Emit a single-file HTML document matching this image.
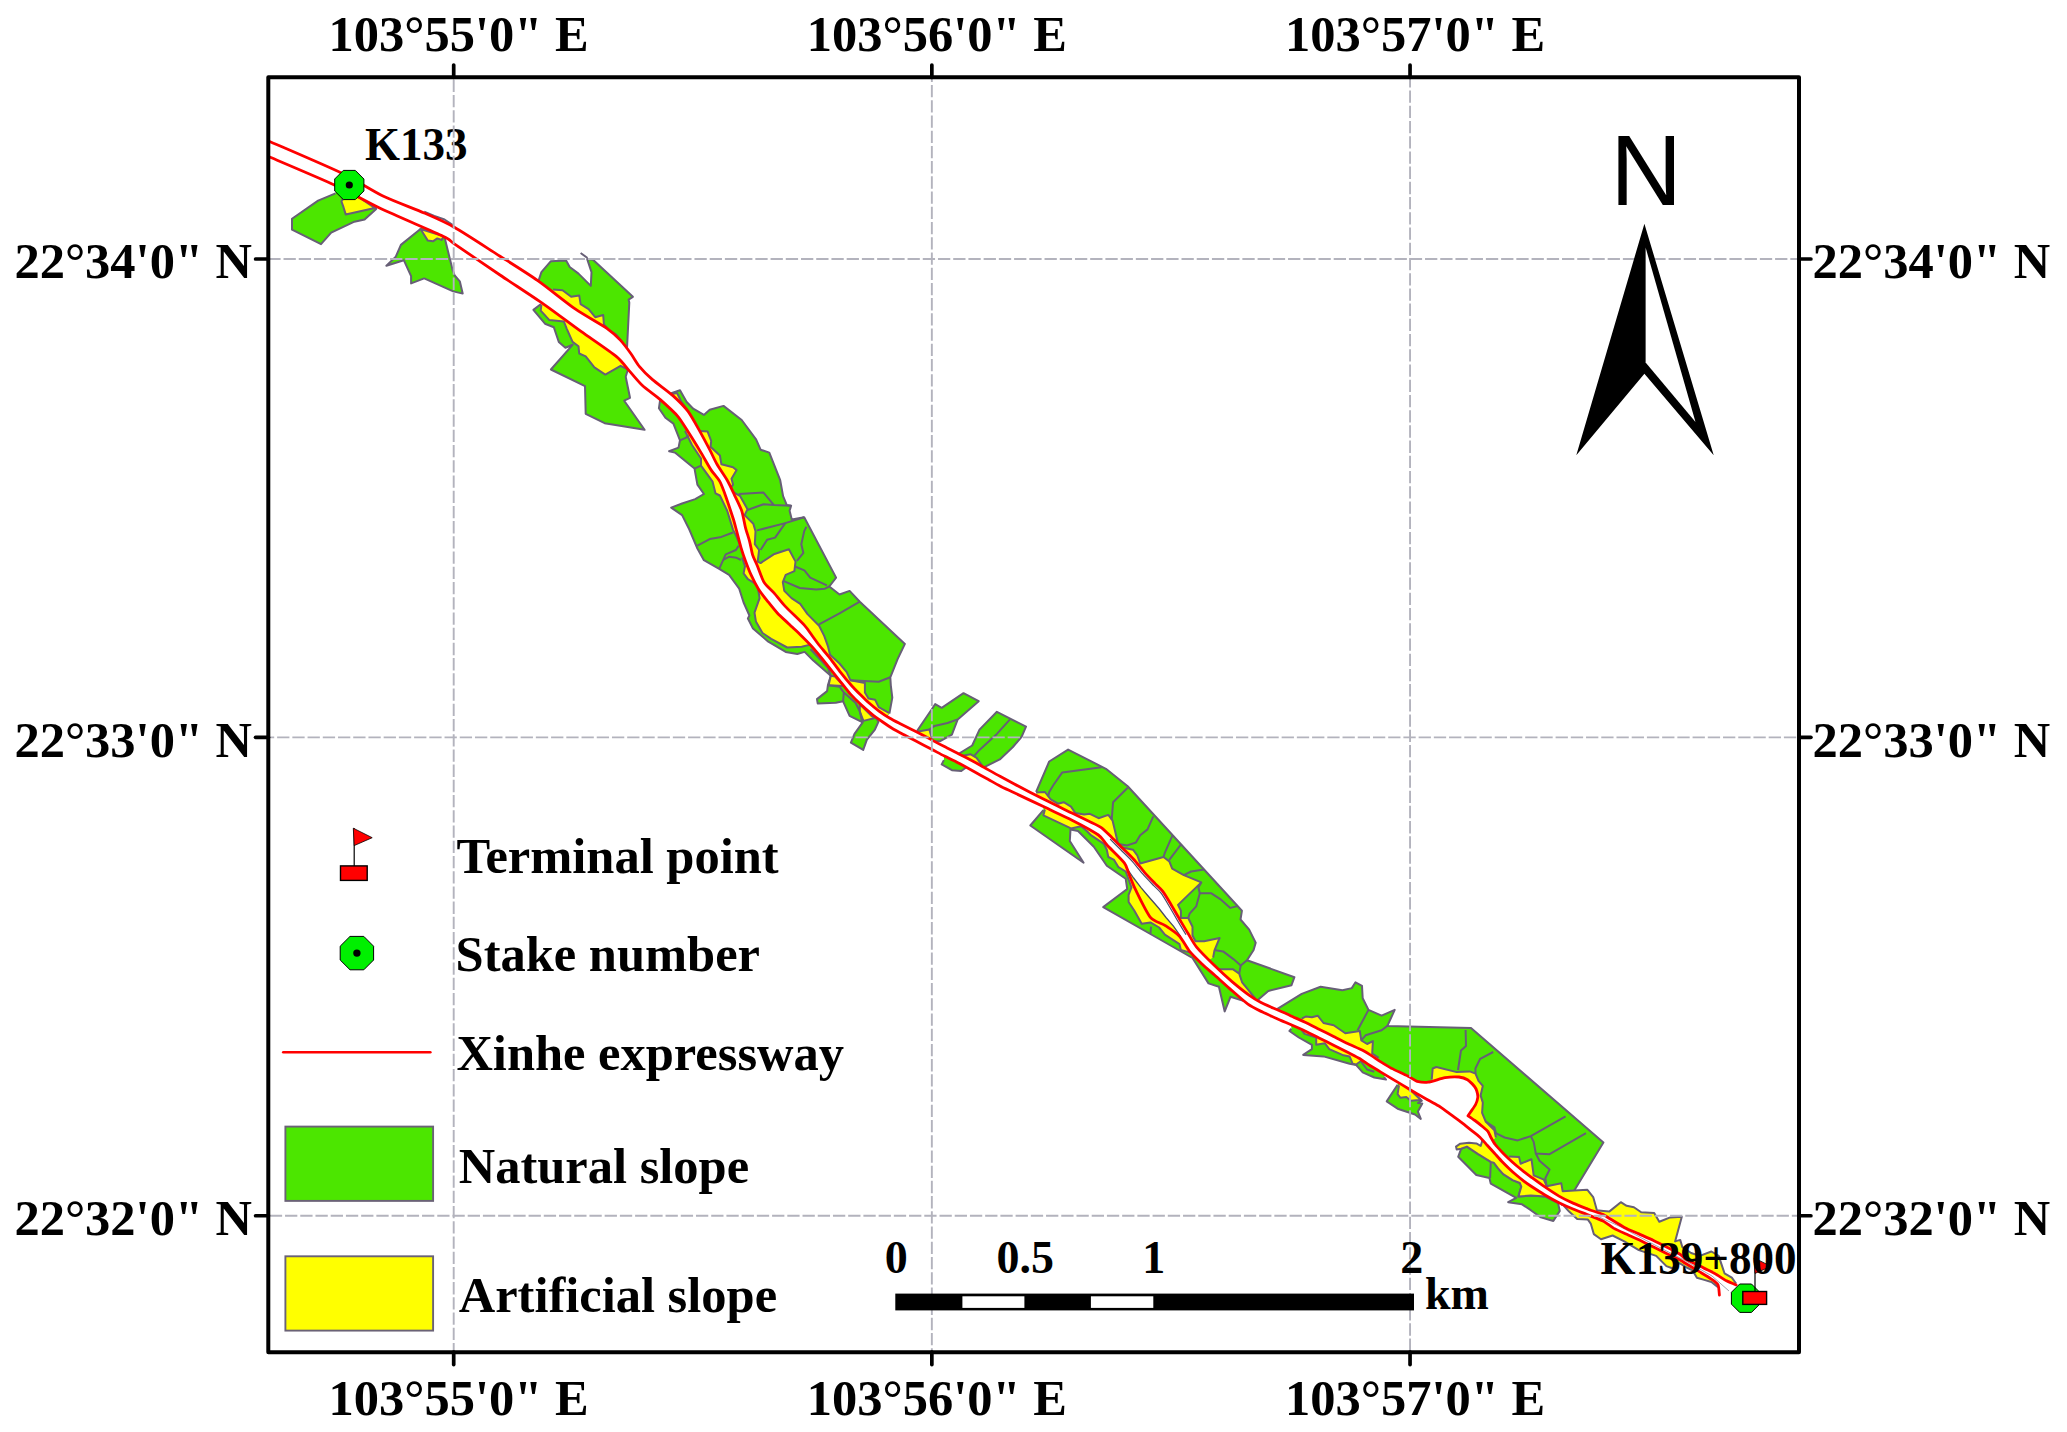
<!DOCTYPE html>
<html><head><meta charset="utf-8"><title>Xinhe expressway slope map</title>
<style>html,body{margin:0;padding:0;background:#fff}svg{display:block}text{font-family:"Liberation Serif",serif;font-weight:bold;fill:#000}.ax{font-size:51.6px}.lg{font-size:50.5px}.st{font-size:46.6px}.sb{font-size:46px}.n{font-family:"Liberation Sans",sans-serif;font-weight:normal;font-size:99.5px}</style></head><body>
<svg width="2067" height="1432" viewBox="0 0 2067 1432">
<rect width="2067" height="1432" fill="#fff"/>
<defs><clipPath id="fr"><rect x="268.3" y="77.3" width="1530.7" height="1274.9"/></clipPath></defs>
<g clip-path="url(#fr)">
<g stroke="#675f76" stroke-width="2.0" stroke-linejoin="round">
<polygon points="335.5,193.4 318.1,200.6 292.0,218.8 292.0,229.7 321.0,244.2 331.2,232.6 354.4,221.7 364.6,219.5 376.2,208.9 374.8,207.2 383.5,196.3 341.4,173.0" fill="#4ce600" stroke="none"/>
<polyline points="335.5,193.4 318.1,200.6 292.0,218.8 292.0,229.7 321.0,244.2 331.2,232.6 354.4,221.7 364.6,219.5 376.2,208.9 374.8,207.2" fill="none"/>
<polygon points="420.5,229.0 400.9,244.9 395.8,256.6 386.4,265.7 403.8,260.2 411.1,276.2 411.1,283.4 424.2,278.4 453.2,291.4 462.7,293.6 459.8,281.3 454.7,275.5 452.5,269.6 444.5,237.0 454.7,227.5 424.2,213.0" fill="#4ce600" stroke="none"/>
<polyline points="420.5,229.0 400.9,244.9 395.8,256.6 386.4,265.7 403.8,260.2 411.1,276.2 411.1,283.4 424.2,278.4 453.2,291.4 462.7,293.6 459.8,281.3 454.7,275.5 452.5,269.6 444.5,237.0" fill="none"/>
<polygon points="538.5,280.9 541.4,272.1 550.9,261.2 566.1,260.5 569.7,267.0 578.5,273.6 590.8,285.9 591.5,272.1 587.2,259.1 593.0,259.8 632.9,296.8 628.6,299.7 629.3,302.6 627.1,346.2 626.4,349.9 616.2,356.4 581.4,331.7 543.6,304.1" fill="#4ce600" stroke="none"/>
<polyline points="538.5,280.9 541.4,272.1 550.9,261.2 566.1,260.5 569.7,267.0 578.5,273.6 590.8,285.9 591.5,272.1 587.2,259.1 593.0,259.8 632.9,296.8 628.6,299.7 629.3,302.6 627.1,346.2 626.4,349.9" fill="none"/>
<polygon points="543.6,304.1 540.0,304.8 533.4,309.9 545.0,323.7 553.8,327.3 558.8,341.9 565.4,347.7 572.6,344.8 550.9,369.5 585.0,386.2 585.7,413.8 604.6,423.2 644.6,429.8 624.2,400.7 630.0,397.8 625.7,376.7 627.9,369.5 639.5,366.6 630.8,353.5 620.6,340.4 607.5,328.8 575.5,309.2 537.8,280.6" fill="#4ce600" stroke="none"/>
<polyline points="543.6,304.1 540.0,304.8 533.4,309.9 545.0,323.7 553.8,327.3 558.8,341.9 565.4,347.7 572.6,344.8 550.9,369.5 585.0,386.2 585.7,413.8 604.6,423.2 644.6,429.8 624.2,400.7 630.0,397.8 625.7,376.7 627.9,369.5" fill="none"/>
<polygon points="671.2,393.1 680.0,390.2 686.5,401.8 693.2,408.7 703.9,414.9 709.7,409.8 723.5,405.9 741.7,420.0 756.2,439.6 760.6,449.7 769.3,452.6 780.2,480.2 783.1,496.2 786.7,504.9 791.1,505.7 789.6,510.8 791.8,519.5 804.2,517.3 836.1,577.6 829.3,586.5 839.5,594.5 849.6,590.9 859.8,601.7 904.9,643.9 897.6,659.1 890.3,677.3 890.8,685.3 892.3,697.6 889.4,713.6 882.7,722.0 871.8,714.0 860.9,704.5 850.0,693.6 840.8,682.1 826.3,663.9 811.8,646.5 800.0,634.5 788.9,624.0 777.3,613.0 767.1,600.6 758.4,589.0 751.2,575.2 745.4,560.7 741.0,547.6 736.6,530.9 733.0,518.0 725.7,496.2 719.9,481.7 711.2,470.1 701.0,452.6 689.4,433.8 677.8,416.3 660.3,399.6" fill="#4ce600" stroke="none"/>
<polyline points="671.2,393.1 680.0,390.2 686.5,401.8 693.2,408.7 703.9,414.9 709.7,409.8 723.5,405.9 741.7,420.0 756.2,439.6 760.6,449.7 769.3,452.6 780.2,480.2 783.1,496.2 786.7,504.9 791.1,505.7 789.6,510.8 791.8,519.5 804.2,517.3 836.1,577.6 829.3,586.5 839.5,594.5 849.6,590.9 859.8,601.7 904.9,643.9 897.6,659.1 890.3,677.3 890.8,685.3 892.3,697.6 889.4,713.6" fill="none"/>
<polygon points="660.3,398.9 658.9,408.3 665.4,417.8 673.4,423.6 680.0,440.3 678.5,447.6 669.1,451.2 674.9,452.6 694.5,468.6 697.4,484.6 703.9,494.0 695.2,499.1 682.1,503.5 671.2,507.6 682.1,515.1 688.7,528.2 697.4,548.5 703.9,560.2 719.2,568.9 729.1,574.9 739.2,588.7 743.6,602.5 749.4,615.5 747.9,618.5 753.0,628.6 768.3,641.7 785.7,651.9 797.3,654.0 804.6,651.9 813.3,660.6 830.8,675.8 827.9,685.3 827.1,691.1 817.0,699.1 817.7,703.4 835.8,702.7 843.1,701.3 849.6,715.8 862.7,722.3 854.5,733.9 850.9,742.6 863.2,749.9 866.9,739.7 874.9,729.6 878.5,721.6 875.8,718.0 879.0,711.1 868.2,702.3 860.0,694.3 851.7,685.7 840.8,672.6 829.9,658.1 819.0,645.0 812.0,635.5 804.5,625.4 785.3,606.4 774.4,593.3 764.2,582.5 757.0,565.0 752.6,554.9 749.7,541.8 745.4,527.3 741.7,510.8 734.4,494.8 727.2,480.2 717.0,464.3 709.7,449.7 699.6,430.9 687.9,411.2 672.9,395.6" fill="#4ce600" stroke="none"/>
<polyline points="660.3,398.9 658.9,408.3 665.4,417.8 673.4,423.6 680.0,440.3 678.5,447.6 669.1,451.2 674.9,452.6 694.5,468.6 697.4,484.6 703.9,494.0 695.2,499.1 682.1,503.5 671.2,507.6 682.1,515.1 688.7,528.2 697.4,548.5 703.9,560.2 719.2,568.9 729.1,574.9 739.2,588.7 743.6,602.5 749.4,615.5 747.9,618.5 753.0,628.6 768.3,641.7 785.7,651.9 797.3,654.0 804.6,651.9 813.3,660.6 830.8,675.8 827.9,685.3 827.1,691.1 817.0,699.1 817.7,703.4 835.8,702.7 843.1,701.3 849.6,715.8 862.7,722.3 854.5,733.9 850.9,742.6 863.2,749.9 866.9,739.7 874.9,729.6 878.5,721.6 875.8,718.0" fill="none"/>
<polygon points="917.0,731.0 932.3,708.5 935.2,704.1 941.7,707.8 963.5,693.2 978.7,701.2 957.7,719.4 951.9,734.7 940.2,741.2 933.0,741.2 932.1,749.5 915.4,740.8" fill="#4ce600" stroke="none"/>
<polyline points="917.0,731.0 932.3,708.5 935.2,704.1 941.7,707.8 963.5,693.2 978.7,701.2 957.7,719.4 951.9,734.7 940.2,741.2 933.0,741.2" fill="none"/>
<polygon points="959.1,753.5 972.2,745.5 979.5,729.6 996.9,711.8 1026.0,726.7 1021.6,736.8 1012.9,747.0 999.8,759.4 983.8,767.3 973.5,771.3 958.9,763.3" fill="#4ce600" stroke="none"/>
<polyline points="959.1,753.5 972.2,745.5 979.5,729.6 996.9,711.8 1026.0,726.7 1021.6,736.8 1012.9,747.0 999.8,759.4 983.8,767.3" fill="none"/>
<polygon points="943.9,760.1 941.7,764.4 951.9,770.2 961.3,771.0 966.4,767.3 973.5,761.5 958.9,753.9 944.4,746.6" fill="#4ce600" stroke="none"/>
<polyline points="943.9,760.1 941.7,764.4 951.9,770.2 961.3,771.0 966.4,767.3" fill="none"/>
<polygon points="1036.1,792.0 1049.2,761.5 1068.1,749.6 1105.9,768.8 1127.7,786.2 1241.9,910.8 1240.5,919.5 1249.2,929.6 1255.7,942.7 1253.6,950.0 1247.0,960.2 1294.4,977.2 1291.5,985.2 1268.3,991.0 1258.1,999.7 1247.9,1004.1 1229.1,988.1 1214.5,975.0 1202.0,964.0 1189.6,951.4 1179.5,936.2 1164.9,925.3 1150.4,917.3 1135.9,890.4 1128.6,873.0 1124.3,862.8 1107.0,845.0 1098.4,835.0 1072.5,820.4 1043.4,806.6" fill="#4ce600" stroke="none"/>
<polyline points="1036.1,792.0 1049.2,761.5 1068.1,749.6 1105.9,768.8 1127.7,786.2 1241.9,910.8 1240.5,919.5 1249.2,929.6 1255.7,942.7 1253.6,950.0 1247.0,960.2 1294.4,977.2 1291.5,985.2 1268.3,991.0 1258.1,999.7" fill="none"/>
<polygon points="1043.4,810.2 1030.3,825.5 1083.6,862.8 1069.8,841.0 1070.5,829.4 1078.0,831.0 1093.8,846.8 1106.8,865.7 1125.7,878.8 1127.2,889.0 1103.2,907.1 1150.4,934.0 1192.5,958.0 1208.5,983.4 1218.9,986.7 1224.7,1011.4 1230.5,996.8 1246.5,1001.9 1249.4,995.4 1232.0,981.6 1214.5,965.6 1196.8,947.4 1188.1,933.6 1179.4,919.0 1170.7,904.0 1162.6,891.2 1155.4,883.9 1144.5,872.3 1133.6,859.2 1122.7,848.3 1111.8,837.4 1100.9,827.3 1088.9,821.2 1072.5,813.3 1043.4,799.1" fill="#4ce600" stroke="none"/>
<polyline points="1043.4,810.2 1030.3,825.5 1083.6,862.8 1069.8,841.0 1070.5,829.4 1078.0,831.0 1093.8,846.8 1106.8,865.7 1125.7,878.8 1127.2,889.0 1103.2,907.1 1150.4,934.0 1192.5,958.0 1208.5,983.4 1218.9,986.7 1224.7,1011.4 1230.5,996.8 1246.5,1001.9" fill="none"/>
<polygon points="1277.0,1009.2 1301.7,993.9 1320.6,986.7 1342.4,990.3 1351.8,988.1 1355.5,982.3 1362.0,985.9 1362.7,998.3 1368.5,1009.9 1381.6,1015.7 1394.7,1009.9 1387.4,1025.9 1471.0,1028.1 1603.4,1142.6 1574.3,1190.5 1573.6,1209.2 1559.0,1202.7 1544.5,1194.7 1530.8,1186.0 1523.5,1180.8 1516.3,1175.0 1509.0,1168.4 1501.7,1161.2 1494.5,1153.2 1487.2,1145.2 1479.9,1137.2 1472.7,1131.4 1461.8,1122.7 1450.9,1114.7 1440.0,1106.7 1428.0,1100.0 1413.5,1091.7 1402.6,1085.1 1391.7,1078.6 1380.8,1072.1 1369.9,1065.5 1359.0,1058.3 1348.1,1052.5 1333.6,1045.2 1319.0,1037.9 1304.5,1030.7 1281.4,1020.6" fill="#4ce600" stroke="none"/>
<polyline points="1277.0,1009.2 1301.7,993.9 1320.6,986.7 1342.4,990.3 1351.8,988.1 1355.5,982.3 1362.0,985.9 1362.7,998.3 1368.5,1009.9 1381.6,1015.7 1394.7,1009.9 1387.4,1025.9 1471.0,1028.1 1603.4,1142.6 1574.3,1190.5" fill="none"/>
<polygon points="1291.5,1028.8 1289.4,1031.0 1298.8,1037.5 1311.9,1044.8 1311.9,1049.1 1303.2,1054.9 1323.5,1056.4 1349.6,1063.7 1356.2,1065.1 1362.7,1072.4 1374.3,1077.5 1386.0,1079.6 1384.0,1077.0 1391.7,1068.4 1380.8,1061.9 1369.9,1054.6 1362.6,1050.3 1348.1,1043.7 1333.6,1036.5 1319.0,1029.2 1304.5,1022.0 1290.0,1015.4" fill="#4ce600" stroke="none"/>
<polyline points="1291.5,1028.8 1289.4,1031.0 1298.8,1037.5 1311.9,1044.8 1311.9,1049.1 1303.2,1054.9 1323.5,1056.4 1349.6,1063.7 1356.2,1065.1 1362.7,1072.4 1374.3,1077.5 1386.0,1079.6 1384.0,1077.0" fill="none"/>
<polygon points="1397.6,1084.7 1386.7,1101.4 1397.6,1108.7 1415.0,1114.5 1420.8,1118.9 1417.9,1111.6 1422.3,1103.6 1417.9,1103.0 1421.6,1100.7 1411.4,1091.0 1417.1,1081.3 1409.8,1077.1 1402.6,1073.5" fill="#4ce600" stroke="none"/>
<polyline points="1397.6,1084.7 1386.7,1101.4 1397.6,1108.7 1415.0,1114.5 1420.8,1118.9 1417.9,1111.6 1422.3,1103.6 1417.9,1103.0 1421.6,1100.7 1411.4,1091.0" fill="none"/>
<polygon points="1461.1,1148.8 1458.2,1156.8 1476.3,1175.0 1489.4,1177.9 1490.8,1183.7 1516.2,1197.8 1508.2,1202.2 1522.0,1204.3 1530.8,1210.2 1540.9,1217.4 1553.3,1221.0 1559.8,1210.9 1558.0,1203.0 1545.3,1196.5 1530.8,1195.6 1518.4,1196.5 1521.3,1186.6 1519.9,1183.0 1512.6,1180.1 1503.2,1174.2 1498.1,1168.4 1493.7,1162.6 1490.8,1161.9 1477.8,1153.9 1466.9,1146.6" fill="#4ce600" stroke="none"/>
<polygon points="1461.1,1148.8 1458.2,1156.8 1476.3,1175.0 1489.4,1177.9 1490.8,1183.7 1516.2,1197.8 1508.2,1202.2 1522.0,1204.3 1530.8,1210.2 1540.9,1217.4 1553.3,1221.0 1559.8,1210.9 1558.0,1203.0 1545.3,1196.5 1530.8,1195.6 1518.4,1196.5 1521.3,1186.6 1519.9,1183.0 1512.6,1180.1 1503.2,1174.2 1498.1,1168.4 1493.7,1162.6 1490.8,1161.9 1477.8,1153.9 1466.9,1146.6" fill="none"/>
<polygon points="341.4,201.4 343.5,207.2 345.7,214.4 374.8,207.9 360.2,198.1 347.0,191.3" fill="#ffff00" stroke="none"/>
<polygon points="341.4,201.4 343.5,207.2 345.7,214.4 374.8,207.9 360.2,198.1 347.0,191.3" fill="none"/>
<polygon points="420.5,229.0 427.8,240.6 432.9,241.3 437.3,238.4 441.6,239.9 443.8,236.2" fill="#ffff00" stroke="none"/>
<polygon points="420.5,229.0 427.8,240.6 432.9,241.3 437.3,238.4 441.6,239.9 443.8,236.2" fill="none"/>
<polygon points="553.0,289.6 562.5,290.3 571.2,296.8 579.2,295.4 580.6,304.1 588.6,309.2 595.2,317.2 603.2,315.0 603.9,324.4 609.0,330.2 616.2,334.6 622.0,341.9 626.4,349.9 616.2,356.4 581.4,331.7 543.6,304.1" fill="#ffff00" stroke="none"/>
<polyline points="553.0,289.6 562.5,290.3 571.2,296.8 579.2,295.4 580.6,304.1 588.6,309.2 595.2,317.2 603.2,315.0 603.9,324.4 609.0,330.2 616.2,334.6 622.0,341.9 626.4,349.9" fill="none"/>
<polygon points="541.4,304.8 540.7,310.6 549.4,320.1 563.9,321.5 566.8,328.8 572.6,341.9 578.5,346.2 579.2,353.5 585.7,356.4 594.4,367.3 605.3,374.6 620.6,365.8 627.9,369.5 639.5,366.6 630.8,353.5 620.6,340.4 607.5,328.8 575.5,309.2 537.8,280.6" fill="#ffff00" stroke="none"/>
<polyline points="541.4,304.8 540.7,310.6 549.4,320.1 563.9,321.5 566.8,328.8 572.6,341.9 578.5,346.2 579.2,353.5 585.7,356.4 594.4,367.3 605.3,374.6 620.6,365.8 627.9,369.5" fill="none"/>
<polygon points="672.0,394.0 677.0,393.0 681.0,401.0 688.0,411.0 677.8,416.3 660.3,399.6" fill="#ffff00" stroke="none"/>
<polyline points="672.0,394.0 677.0,393.0 681.0,401.0 688.0,411.0" fill="none"/>
<polygon points="699.6,430.9 707.6,431.6 711.2,441.0 710.5,446.8 719.9,455.5 721.4,464.3 733.0,467.2 736.6,470.1 731.5,478.8 733.0,484.6 730.8,487.5 725.7,496.2 719.9,481.7 711.2,470.1 701.0,452.6 689.4,433.8" fill="#ffff00" stroke="none"/>
<polyline points="699.6,430.9 707.6,431.6 711.2,441.0 710.5,446.8 719.9,455.5 721.4,464.3 733.0,467.2 736.6,470.1 731.5,478.8 733.0,484.6 730.8,487.5" fill="none"/>
<polygon points="733.0,491.9 740.2,496.2 747.5,509.3 744.6,515.1 753.3,523.8 755.5,531.1 754.8,544.2 759.1,550.0 757.7,561.6 760.6,563.1 773.7,554.3 788.9,549.3 795.5,561.6 794.4,571.2 785.7,574.9 782.8,582.1 784.3,590.9 791.5,598.1 800.2,603.9 807.5,614.1 819.1,625.7 824.2,635.9 827.9,646.1 830.0,654.8 839.5,663.5 846.7,672.2 850.4,680.2 864.9,683.1 864.9,692.5 868.5,698.4 875.1,699.8 878.7,707.1 888.9,712.9 882.7,722.0 871.8,714.0 860.9,704.5 850.0,693.6 840.8,682.1 826.3,663.9 811.8,646.5 800.0,634.5 788.9,624.0 777.3,613.0 767.1,600.6 758.4,589.0 751.2,575.2 745.4,560.7 741.0,547.6 736.6,530.9 733.0,518.0 725.7,496.2" fill="#ffff00" stroke="none"/>
<polyline points="733.0,491.9 740.2,496.2 747.5,509.3 744.6,515.1 753.3,523.8 755.5,531.1 754.8,544.2 759.1,550.0 757.7,561.6 760.6,563.1 773.7,554.3 788.9,549.3 795.5,561.6 794.4,571.2 785.7,574.9 782.8,582.1 784.3,590.9 791.5,598.1 800.2,603.9 807.5,614.1 819.1,625.7 824.2,635.9 827.9,646.1 830.0,654.8 839.5,663.5 846.7,672.2 850.4,680.2 864.9,683.1 864.9,692.5 868.5,698.4 875.1,699.8 878.7,707.1 888.9,712.9" fill="none"/>
<polygon points="685.0,430.9 692.0,445.0 701.0,458.5 701.0,465.7 712.6,481.7 715.5,493.3 719.9,495.5 727.2,510.8 733.0,529.6 736.6,536.9 740.0,545.0 749.7,541.8 745.4,527.3 741.7,510.8 734.4,494.8 727.2,480.2 717.0,464.3 709.7,449.7 699.6,430.9" fill="#ffff00" stroke="none"/>
<polyline points="685.0,430.9 692.0,445.0 701.0,458.5 701.0,465.7 712.6,481.7 715.5,493.3 719.9,495.5 727.2,510.8 733.0,529.6 736.6,536.9 740.0,545.0" fill="none"/>
<polygon points="742.1,557.4 745.0,566.2 743.6,573.4 747.9,579.2 757.4,585.0 759.6,598.1 754.5,612.6 755.9,621.4 762.5,633.0 771.2,638.8 787.2,647.5 801.7,646.8 810.4,644.6 819.0,645.0 812.0,635.5 804.5,625.4 785.3,606.4 774.4,593.3 764.2,582.5 757.0,565.0 752.6,554.9" fill="#ffff00" stroke="none"/>
<polyline points="742.1,557.4 745.0,566.2 743.6,573.4 747.9,579.2 757.4,585.0 759.6,598.1 754.5,612.6 755.9,621.4 762.5,633.0 771.2,638.8 787.2,647.5 801.7,646.8 810.4,644.6" fill="none"/>
<polygon points="830.8,675.8 835.0,676.5 843.8,686.0 828.6,685.3" fill="#ffff00" stroke="none"/>
<polygon points="830.8,675.8 835.0,676.5 843.8,686.0 828.6,685.3" fill="none"/>
<polygon points="859.8,704.2 871.4,715.8 875.0,718.0 863.4,720.9 859.8,711.4" fill="#ffff00" stroke="none"/>
<polygon points="859.8,704.2 871.4,715.8 875.0,718.0 863.4,720.9 859.8,711.4" fill="none"/>
<polygon points="917.0,731.7 929.4,729.6 932.3,739.7 932.1,749.5 915.4,740.8" fill="#ffff00" stroke="none"/>
<polyline points="917.0,731.7 929.4,729.6 932.3,739.7" fill="none"/>
<polygon points="962.0,755.7 970.8,754.3 976.6,757.9 982.4,765.9 973.5,771.3 958.9,763.3" fill="#ffff00" stroke="none"/>
<polyline points="962.0,755.7 970.8,754.3 976.6,757.9 982.4,765.9" fill="none"/>
<polygon points="1036.1,792.5 1044.9,792.0 1050.7,799.3 1057.9,803.7 1063.7,802.2 1071.0,806.6 1075.4,813.1 1084.1,814.6 1089.9,813.8 1098.6,818.2 1108.3,814.9 1112.6,820.7 1118.5,845.4 1122.1,847.6 1133.0,849.7 1137.3,855.5 1140.2,863.5 1163.5,857.0 1169.3,861.4 1172.2,868.6 1183.8,875.2 1201.3,882.4 1178.0,904.9 1180.9,910.8 1180.9,918.0 1188.2,918.0 1192.5,926.7 1192.5,935.5 1195.5,941.3 1204.2,941.3 1219.6,938.0 1214.5,950.3 1213.1,957.6 1202.0,964.0 1189.6,951.4 1179.5,936.2 1164.9,925.3 1150.4,917.3 1135.9,890.4 1128.6,873.0 1124.3,862.8 1107.0,845.0 1098.4,835.0 1072.5,820.4 1043.4,806.6" fill="#ffff00" stroke="none"/>
<polyline points="1036.1,792.5 1044.9,792.0 1050.7,799.3 1057.9,803.7 1063.7,802.2 1071.0,806.6 1075.4,813.1 1084.1,814.6 1089.9,813.8 1098.6,818.2 1108.3,814.9 1112.6,820.7 1118.5,845.4 1122.1,847.6 1133.0,849.7 1137.3,855.5 1140.2,863.5 1163.5,857.0 1169.3,861.4 1172.2,868.6 1183.8,875.2 1201.3,882.4 1178.0,904.9 1180.9,910.8 1180.9,918.0 1188.2,918.0 1192.5,926.7 1192.5,935.5 1195.5,941.3 1204.2,941.3 1219.6,938.0 1214.5,950.3 1213.1,957.6" fill="none"/>
<polygon points="1218.9,969.2 1232.7,969.2 1239.2,973.6 1242.1,982.3 1255.2,998.3 1247.9,1004.1 1229.1,988.1 1214.5,975.0" fill="#ffff00" stroke="none"/>
<polyline points="1218.9,969.2 1232.7,969.2 1239.2,973.6 1242.1,982.3 1255.2,998.3" fill="none"/>
<polygon points="1044.9,809.5 1043.4,815.3 1071.0,828.4 1081.2,826.2 1087.0,831.3 1090.9,835.2 1103.9,843.9 1106.8,849.7 1108.3,857.0 1114.1,859.9 1118.5,867.2 1125.7,871.5 1131.5,887.5 1128.6,894.8 1128.6,902.0 1134.4,910.8 1141.7,923.8 1150.4,922.4 1159.1,927.5 1164.9,934.7 1179.5,944.2 1180.9,950.0 1191.1,952.9 1196.8,947.4 1188.1,933.6 1179.4,919.0 1170.7,904.0 1162.6,891.2 1155.4,883.9 1144.5,872.3 1133.6,859.2 1122.7,848.3 1111.8,837.4 1100.9,827.3 1088.9,821.2 1072.5,813.3 1043.4,799.1" fill="#ffff00" stroke="none"/>
<polyline points="1044.9,809.5 1043.4,815.3 1071.0,828.4 1081.2,826.2 1087.0,831.3 1090.9,835.2 1103.9,843.9 1106.8,849.7 1108.3,857.0 1114.1,859.9 1118.5,867.2 1125.7,871.5 1131.5,887.5 1128.6,894.8 1128.6,902.0 1134.4,910.8 1141.7,923.8 1150.4,922.4 1159.1,927.5 1164.9,934.7 1179.5,944.2 1180.9,950.0 1191.1,952.9" fill="none"/>
<polygon points="1301.7,1018.6 1306.1,1016.4 1311.9,1017.2 1317.7,1015.7 1323.5,1023.0 1333.7,1025.2 1345.3,1033.2 1359.8,1031.0 1361.3,1040.4 1367.1,1044.0 1372.9,1041.1 1372.2,1053.5 1378.7,1057.9 1369.9,1065.5 1359.0,1058.3 1348.1,1052.5 1333.6,1045.2 1319.0,1037.9 1304.5,1030.7" fill="#ffff00" stroke="none"/>
<polyline points="1301.7,1018.6 1306.1,1016.4 1311.9,1017.2 1317.7,1015.7 1323.5,1023.0 1333.7,1025.2 1345.3,1033.2 1359.8,1031.0 1361.3,1040.4 1367.1,1044.0 1372.9,1041.1 1372.2,1053.5 1378.7,1057.9" fill="none"/>
<polygon points="1431.7,1079.6 1432.7,1068.5 1436.3,1067.0 1456.7,1072.1 1469.7,1071.4 1475.5,1073.6 1478.5,1080.9 1482.8,1085.9 1480.6,1095.4 1482.8,1102.6 1482.1,1112.8 1485.7,1121.5 1494.4,1130.2 1495.9,1137.5 1487.2,1145.2 1479.9,1137.2 1472.7,1131.4 1461.8,1122.7 1450.9,1114.7 1440.0,1106.7 1428.0,1100.0" fill="#ffff00" stroke="none"/>
<polyline points="1431.7,1079.6 1432.7,1068.5 1436.3,1067.0 1456.7,1072.1 1469.7,1071.4 1475.5,1073.6 1478.5,1080.9 1482.8,1085.9 1480.6,1095.4 1482.8,1102.6 1482.1,1112.8 1485.7,1121.5 1494.4,1130.2 1495.9,1137.5" fill="none"/>
<polygon points="1509.0,1156.4 1519.1,1157.1 1520.6,1163.7 1531.5,1159.3 1533.7,1175.3 1543.8,1179.6 1546.7,1186.2 1561.3,1183.3 1562.7,1191.3 1574.3,1190.5 1587.4,1189.8 1593.2,1197.1 1596.9,1210.2 1603.4,1210.9 1609.2,1211.6 1620.8,1202.2 1626.6,1205.8 1633.9,1207.2 1641.2,1212.3 1654.2,1213.1 1659.3,1221.8 1670.2,1217.4 1681.8,1216.7 1675.1,1241.4 1680.2,1239.9 1682.4,1247.2 1691.1,1253.0 1699.8,1255.9 1711.4,1251.5 1718.7,1255.9 1721.6,1264.6 1724.5,1273.3 1731.8,1277.7 1736.1,1283.5 1718.0,1284.9 1711.4,1279.1 1699.8,1271.9 1685.3,1263.2 1680.0,1260.1 1668.0,1254.2 1653.5,1247.0 1638.9,1239.7 1624.4,1233.2 1613.5,1228.1 1604.1,1221.6 1595.4,1217.9 1586.6,1214.3 1573.6,1209.2 1559.0,1202.7 1544.5,1194.7 1530.8,1186.0 1523.5,1180.8 1516.3,1175.0 1509.0,1168.4 1501.7,1161.2" fill="#ffff00" stroke="none"/>
<polyline points="1509.0,1156.4 1519.1,1157.1 1520.6,1163.7 1531.5,1159.3 1533.7,1175.3 1543.8,1179.6 1546.7,1186.2 1561.3,1183.3 1562.7,1191.3 1574.3,1190.5 1587.4,1189.8 1593.2,1197.1 1596.9,1210.2 1603.4,1210.9 1609.2,1211.6 1620.8,1202.2 1626.6,1205.8 1633.9,1207.2 1641.2,1212.3 1654.2,1213.1 1659.3,1221.8 1670.2,1217.4 1681.8,1216.7 1675.1,1241.4 1680.2,1239.9 1682.4,1247.2 1691.1,1253.0 1699.8,1255.9 1711.4,1251.5 1718.7,1255.9 1721.6,1264.6 1724.5,1273.3 1731.8,1277.7 1736.1,1283.5" fill="none"/>
<polygon points="1301.7,1030.2 1304.6,1033.9 1316.2,1037.5 1316.2,1044.8 1324.9,1043.3 1329.3,1049.1 1342.4,1054.9 1349.6,1056.4 1352.6,1063.7 1356.2,1064.5 1361.3,1060.8 1362.6,1050.3 1348.1,1043.7 1333.6,1036.5 1319.0,1029.2 1304.5,1022.0" fill="#ffff00" stroke="none"/>
<polyline points="1301.7,1030.2 1304.6,1033.9 1316.2,1037.5 1316.2,1044.8 1324.9,1043.3 1329.3,1049.1 1342.4,1054.9 1349.6,1056.4 1352.6,1063.7 1356.2,1064.5 1361.3,1060.8" fill="none"/>
<polygon points="1399.0,1085.4 1397.6,1094.2 1400.5,1097.8 1406.3,1097.1 1410.7,1100.7 1419.4,1100.0 1421.6,1100.7 1411.4,1091.0 1417.1,1081.3 1409.8,1077.1 1402.6,1073.5" fill="#ffff00" stroke="none"/>
<polyline points="1399.0,1085.4 1397.6,1094.2 1400.5,1097.8 1406.3,1097.1 1410.7,1100.7 1419.4,1100.0 1421.6,1100.7 1411.4,1091.0" fill="none"/>
<polygon points="1482.5,1140.0 1480.7,1145.9 1476.3,1143.4 1469.0,1142.7 1460.3,1143.7 1456.0,1146.6 1456.7,1149.5 1461.1,1148.8 1466.9,1146.6 1477.8,1153.9 1490.8,1161.9 1493.7,1162.6 1498.1,1168.4 1503.2,1174.2 1512.6,1180.1 1519.9,1183.0 1521.3,1186.6 1518.4,1196.5 1530.8,1195.6 1545.3,1196.5 1544.5,1186.7 1530.8,1176.8 1523.5,1171.3 1516.3,1165.5 1509.0,1159.0 1501.7,1151.7 1495.2,1144.5 1490.8,1137.2" fill="#ffff00" stroke="none"/>
<polyline points="1482.5,1140.0 1480.7,1145.9 1476.3,1143.4 1469.0,1142.7 1460.3,1143.7 1456.0,1146.6 1456.7,1149.5 1461.1,1148.8 1466.9,1146.6 1477.8,1153.9 1490.8,1161.9 1493.7,1162.6 1498.1,1168.4 1503.2,1174.2 1512.6,1180.1 1519.9,1183.0 1521.3,1186.6 1518.4,1196.5 1530.8,1195.6 1545.3,1196.5" fill="none"/>
<polygon points="1561.3,1205.0 1563.2,1205.0 1569.1,1211.6 1577.2,1218.9 1587.9,1219.6 1590.9,1223.9 1593.8,1234.1 1601.0,1239.2 1612.6,1235.5 1624.3,1241.4 1638.8,1250.1 1656.2,1255.9 1666.4,1266.1 1672.2,1268.2 1679.5,1263.2 1686.7,1267.5 1692.6,1270.4 1696.9,1277.7 1704.2,1279.9 1711.4,1282.0 1718.0,1287.1 1726.0,1280.6 1714.3,1273.3 1699.8,1266.1 1685.3,1258.8 1680.0,1254.2 1668.0,1247.7 1653.5,1240.4 1638.9,1233.9 1624.4,1227.4 1609.9,1218.7 1602.6,1214.3 1588.1,1209.2 1573.6,1203.4 1559.0,1196.1" fill="#ffff00" stroke="none"/>
<polyline points="1561.3,1205.0 1563.2,1205.0 1569.1,1211.6 1577.2,1218.9 1587.9,1219.6 1590.9,1223.9 1593.8,1234.1 1601.0,1239.2 1612.6,1235.5 1624.3,1241.4 1638.8,1250.1 1656.2,1255.9 1666.4,1266.1 1672.2,1268.2 1679.5,1263.2 1686.7,1267.5 1692.6,1270.4 1696.9,1277.7 1704.2,1279.9 1711.4,1282.0 1718.0,1287.1" fill="none"/>
<polyline points="424.2,211.8 434.3,215.9 444.5,219.5 452.5,224.9" fill="none"/>
<polyline points="580.6,253.0 587.5,258.0" fill="none"/>
<polyline points="738.8,494.0 763.5,492.6 773.7,504.9 791.1,505.7" fill="none"/>
<polyline points="747.5,510.0 763.5,504.2 773.7,504.9" fill="none"/>
<polyline points="757.0,530.4 785.3,523.1 804.2,517.3" fill="none"/>
<polyline points="760.6,550.0 767.1,539.8 775.1,537.6 785.3,523.1" fill="none"/>
<polyline points="806.4,526.7 804.2,531.1 801.3,544.2 803.4,552.9 796.9,560.9" fill="none"/>
<polyline points="795.0,566.5 804.4,570.4 810.2,577.7 826.9,585.3" fill="none"/>
<polyline points="783.8,581.2 799.8,588.0 816.2,589.4 824.9,588.7 829.3,586.5" fill="none"/>
<polyline points="819.1,624.3 839.5,613.4 859.8,601.7" fill="none"/>
<polyline points="850.4,680.2 878.7,681.7 890.3,677.3" fill="none"/>
<polyline points="680.0,440.3 685.0,438.1 689.0,436.0" fill="none"/>
<polyline points="694.5,468.6 701.0,465.7" fill="none"/>
<polyline points="697.4,545.6 709.7,539.1 721.4,536.9 733.0,532.5" fill="none"/>
<polyline points="719.2,568.9 725.7,554.3 735.9,550.0 738.8,545.6" fill="none"/>
<polyline points="723.6,559.6 729.4,556.7 736.6,557.8 741.0,560.0" fill="none"/>
<polyline points="810.4,649.0 827.9,667.9 830.8,675.8" fill="none"/>
<polyline points="828.6,685.3 839.5,686.7 843.8,692.5 843.1,701.3" fill="none"/>
<polyline points="843.8,692.5 855.5,702.7 859.8,711.4 862.0,721.6" fill="none"/>
<polyline points="929.4,729.6 934.4,725.9 947.5,723.0 957.7,719.4" fill="none"/>
<polyline points="1010.0,719.4 996.9,733.9 979.5,749.9 974.4,755.7" fill="none"/>
<polyline points="1048.2,796.0 1049.2,792.0 1053.6,784.8 1062.3,772.4 1101.5,767.3" fill="none"/>
<polyline points="1127.7,787.7 1113.1,802.2 1111.7,819.6" fill="none"/>
<polyline points="1153.3,816.3 1147.5,829.4 1140.2,835.2 1135.9,842.5 1127.2,845.4 1118.5,844.0" fill="none"/>
<polyline points="1172.6,835.2 1164.9,852.6 1163.5,857.0" fill="none"/>
<polyline points="1181.0,844.4 1169.3,859.9" fill="none"/>
<polyline points="1183.8,875.2 1191.1,871.5 1204.0,869.5" fill="none"/>
<polyline points="1201.3,882.4 1198.4,887.5 1199.8,893.3 1211.4,893.3 1220.2,899.1 1230.3,907.9 1237.6,906.1" fill="none"/>
<polyline points="1199.8,893.3 1196.2,906.4 1189.6,913.7 1188.2,918.0" fill="none"/>
<polyline points="1214.3,950.0 1223.1,951.4 1233.4,959.1 1240.7,965.6 1247.0,960.2" fill="none"/>
<polyline points="1240.7,965.6 1239.2,973.6" fill="none"/>
<polyline points="1150.4,934.0 1151.1,926.7" fill="none"/>
<polyline points="1368.5,1009.9 1357.6,1030.2" fill="none"/>
<polyline points="1387.4,1025.9 1381.6,1030.2 1365.6,1035.3 1361.3,1040.4" fill="none"/>
<polyline points="1465.6,1030.0 1466.0,1046.0 1461.0,1050.4 1458.0,1070.0" fill="none"/>
<polyline points="1493.2,1052.0 1480.2,1058.8 1475.4,1068.5 1475.5,1073.6" fill="none"/>
<polyline points="1485.7,1121.5 1494.4,1127.3 1495.9,1133.2 1504.6,1137.5 1517.7,1140.4 1530.8,1136.1 1565.6,1116.4" fill="none"/>
<polyline points="1530.8,1136.1 1533.7,1141.9 1535.8,1153.5 1549.6,1154.2 1586.0,1133.2" fill="none"/>
<polyline points="1535.8,1153.5 1539.5,1160.8 1549.6,1169.5 1545.3,1178.2 1546.7,1186.2" fill="none"/>
<polyline points="1361.3,1062.0 1367.1,1069.5 1374.3,1071.7" fill="none"/>
<polyline points="1490.8,1161.9 1490.1,1177.9" fill="none"/>
</g>
<path d="M268.5,141.0C277.6,145.0 327.0,166.1 341.4,173.0C355.8,179.9 373.1,191.3 383.5,196.3C393.9,201.3 415.3,209.1 424.2,213.0C433.1,216.9 445.2,222.1 454.7,227.5C464.2,232.9 489.6,249.6 500.0,256.2C510.4,262.8 528.4,274.0 537.8,280.6C547.2,287.2 566.8,303.2 575.5,309.2C584.2,315.2 601.9,324.9 607.5,328.8C613.1,332.7 617.7,337.3 620.6,340.4C623.5,343.5 628.4,350.2 630.8,353.5C633.2,356.8 636.8,363.3 639.5,366.6C642.2,369.9 648.3,376.0 652.5,379.6C656.7,383.2 668.5,391.7 672.9,395.6C677.3,399.6 684.6,406.8 687.9,411.2C691.2,415.6 696.9,426.1 699.6,430.9C702.3,435.7 707.5,445.5 709.7,449.7C711.9,453.9 714.8,460.5 717.0,464.3C719.2,468.1 725.0,476.4 727.2,480.2C729.4,484.0 732.6,491.0 734.4,494.8C736.2,498.6 740.3,506.7 741.7,510.8C743.1,514.9 744.4,523.4 745.4,527.3C746.4,531.2 748.8,538.3 749.7,541.8C750.6,545.2 751.7,552.0 752.6,554.9C753.5,557.8 755.5,561.5 757.0,565.0C758.5,568.5 762.0,579.0 764.2,582.5C766.4,586.0 771.8,590.3 774.4,593.3C777.0,596.3 781.5,602.4 785.3,606.4C789.1,610.4 801.2,621.8 804.5,625.4C807.8,629.0 810.2,633.0 812.0,635.5C813.8,638.0 816.8,642.2 819.0,645.0C821.2,647.8 827.2,654.6 829.9,658.1C832.6,661.6 838.1,669.1 840.8,672.6C843.5,676.1 849.3,683.0 851.7,685.7C854.1,688.4 857.9,692.2 860.0,694.3C862.1,696.4 865.8,700.2 868.2,702.3C870.6,704.4 876.3,709.1 879.0,711.1C881.7,713.1 887.2,716.7 889.9,718.3C892.6,719.9 898.1,722.7 900.8,724.1C903.5,725.5 909.0,728.2 911.7,729.6C914.4,731.0 920.1,733.7 922.6,735.0C925.1,736.3 929.4,738.6 932.1,740.1C934.8,741.6 941.0,744.9 944.4,746.6C947.8,748.3 955.3,752.0 958.9,753.9C962.5,755.8 970.3,759.8 973.5,761.5C976.7,763.2 981.0,765.8 984.3,767.6C987.6,769.4 996.2,774.2 1000.0,776.2C1003.8,778.2 1008.9,781.0 1014.3,783.9C1019.7,786.8 1036.1,795.4 1043.4,799.1C1050.7,802.8 1066.8,810.5 1072.5,813.3C1078.2,816.1 1085.4,819.5 1088.9,821.2C1092.5,823.0 1098.0,825.3 1100.9,827.3C1103.8,829.3 1109.1,834.8 1111.8,837.4C1114.5,840.0 1120.0,845.6 1122.7,848.3C1125.4,851.0 1130.9,856.2 1133.6,859.2C1136.3,862.2 1141.8,869.2 1144.5,872.3C1147.2,875.4 1153.1,881.5 1155.4,883.9C1157.7,886.3 1160.7,888.7 1162.6,891.2C1164.5,893.7 1168.6,900.5 1170.7,904.0C1172.8,907.5 1177.2,915.3 1179.4,919.0C1181.6,922.7 1185.9,930.1 1188.1,933.6C1190.3,937.1 1193.5,943.4 1196.8,947.4C1200.1,951.4 1210.1,961.3 1214.5,965.6C1218.9,969.9 1227.6,977.9 1232.0,981.6C1236.4,985.3 1245.8,992.8 1249.4,995.4C1253.0,998.0 1257.4,1000.7 1261.0,1002.6C1264.6,1004.5 1274.9,1008.7 1278.5,1010.3C1282.1,1011.9 1286.8,1013.9 1290.0,1015.4C1293.2,1016.9 1300.9,1020.3 1304.5,1022.0C1308.1,1023.7 1315.4,1027.4 1319.0,1029.2C1322.6,1031.0 1330.0,1034.7 1333.6,1036.5C1337.2,1038.3 1344.5,1042.0 1348.1,1043.7C1351.7,1045.4 1359.9,1048.9 1362.6,1050.3C1365.3,1051.7 1367.6,1053.1 1369.9,1054.6C1372.2,1056.0 1378.1,1060.2 1380.8,1061.9C1383.5,1063.6 1389.0,1067.0 1391.7,1068.4C1394.4,1069.9 1400.3,1072.4 1402.6,1073.5C1404.9,1074.6 1408.0,1076.1 1409.8,1077.1C1411.6,1078.1 1414.8,1080.7 1417.1,1081.3C1419.4,1081.9 1424.5,1082.7 1428.0,1082.2C1431.5,1081.8 1441.1,1078.4 1445.0,1077.7C1448.9,1077.0 1456.2,1076.7 1459.0,1077.0C1461.8,1077.3 1465.6,1078.6 1467.5,1079.8C1469.4,1081.0 1473.3,1085.1 1474.5,1086.5C1475.7,1087.9 1476.4,1089.7 1476.8,1091.0C1477.2,1092.3 1478.0,1095.6 1477.8,1097.3C1477.6,1099.0 1476.4,1102.8 1475.6,1104.5C1474.8,1106.2 1472.2,1109.7 1471.2,1111.1C1470.2,1112.5 1468.4,1115.2 1468.0,1115.8L1468.0,1115.8C1468.9,1116.4 1473.1,1119.2 1474.9,1120.5C1476.7,1121.8 1480.5,1124.9 1482.1,1126.3C1483.7,1127.7 1486.8,1130.0 1487.9,1131.4C1489.0,1132.8 1489.9,1135.6 1490.8,1137.2C1491.7,1138.8 1493.8,1142.7 1495.2,1144.5C1496.6,1146.3 1500.0,1149.9 1501.7,1151.7C1503.4,1153.5 1507.2,1157.3 1509.0,1159.0C1510.8,1160.7 1514.5,1164.0 1516.3,1165.5C1518.1,1167.0 1521.7,1169.9 1523.5,1171.3C1525.3,1172.7 1528.2,1174.9 1530.8,1176.8C1533.4,1178.7 1541.0,1184.3 1544.5,1186.7C1548.0,1189.1 1555.4,1194.0 1559.0,1196.1C1562.6,1198.2 1570.0,1201.8 1573.6,1203.4C1577.2,1205.0 1584.5,1207.8 1588.1,1209.2C1591.7,1210.6 1599.9,1213.1 1602.6,1214.3C1605.3,1215.5 1607.2,1217.1 1609.9,1218.7C1612.6,1220.3 1620.8,1225.5 1624.4,1227.4C1628.0,1229.3 1635.3,1232.3 1638.9,1233.9C1642.5,1235.5 1649.9,1238.7 1653.5,1240.4C1657.1,1242.1 1664.7,1246.0 1668.0,1247.7C1671.3,1249.4 1677.8,1252.8 1680.0,1254.2C1682.2,1255.6 1682.8,1257.3 1685.3,1258.8C1687.8,1260.3 1696.2,1264.3 1699.8,1266.1C1703.4,1267.9 1711.0,1271.5 1714.3,1273.3C1717.6,1275.1 1723.3,1279.1 1726.0,1280.6C1728.7,1282.0 1734.8,1284.4 1736.1,1284.9L1719.4,1295.1C1719.2,1293.8 1719.0,1286.9 1718.0,1284.9C1717.0,1282.9 1713.7,1280.7 1711.4,1279.1C1709.1,1277.5 1703.1,1273.9 1699.8,1271.9C1696.5,1269.9 1687.8,1264.7 1685.3,1263.2C1682.8,1261.7 1682.2,1261.2 1680.0,1260.1C1677.8,1259.0 1671.3,1255.8 1668.0,1254.2C1664.7,1252.6 1657.1,1248.8 1653.5,1247.0C1649.9,1245.2 1642.5,1241.4 1638.9,1239.7C1635.3,1238.0 1627.6,1234.7 1624.4,1233.2C1621.2,1231.8 1616.0,1229.5 1613.5,1228.1C1611.0,1226.6 1606.4,1222.9 1604.1,1221.6C1601.8,1220.3 1597.6,1218.8 1595.4,1217.9C1593.2,1217.0 1589.3,1215.4 1586.6,1214.3C1583.9,1213.2 1577.0,1210.7 1573.6,1209.2C1570.1,1207.8 1562.6,1204.5 1559.0,1202.7C1555.4,1200.9 1548.0,1196.8 1544.5,1194.7C1541.0,1192.6 1533.4,1187.7 1530.8,1186.0C1528.2,1184.3 1525.3,1182.2 1523.5,1180.8C1521.7,1179.4 1518.1,1176.5 1516.3,1175.0C1514.5,1173.5 1510.8,1170.1 1509.0,1168.4C1507.2,1166.7 1503.5,1163.1 1501.7,1161.2C1499.9,1159.3 1496.3,1155.2 1494.5,1153.2C1492.7,1151.2 1489.0,1147.2 1487.2,1145.2C1485.4,1143.2 1481.7,1138.9 1479.9,1137.2C1478.1,1135.5 1475.0,1133.2 1472.7,1131.4C1470.4,1129.6 1464.5,1124.8 1461.8,1122.7C1459.1,1120.6 1453.6,1116.7 1450.9,1114.7C1448.2,1112.7 1442.9,1108.5 1440.0,1106.7C1437.1,1104.9 1431.3,1101.9 1428.0,1100.0C1424.7,1098.1 1416.7,1093.6 1413.5,1091.7C1410.3,1089.8 1405.3,1086.7 1402.6,1085.1C1399.9,1083.5 1394.4,1080.2 1391.7,1078.6C1389.0,1077.0 1383.5,1073.7 1380.8,1072.1C1378.1,1070.5 1372.6,1067.2 1369.9,1065.5C1367.2,1063.8 1361.7,1059.9 1359.0,1058.3C1356.3,1056.7 1351.3,1054.1 1348.1,1052.5C1344.9,1050.9 1337.2,1047.0 1333.6,1045.2C1330.0,1043.4 1322.6,1039.7 1319.0,1037.9C1315.4,1036.1 1309.2,1032.9 1304.5,1030.7C1299.8,1028.5 1286.7,1022.9 1281.4,1020.6C1276.2,1018.3 1266.7,1014.2 1262.5,1012.1C1258.3,1010.0 1252.1,1007.1 1247.9,1004.1C1243.7,1001.1 1233.3,991.7 1229.1,988.1C1224.9,984.5 1217.9,978.0 1214.5,975.0C1211.1,972.0 1205.1,967.0 1202.0,964.0C1198.9,961.0 1192.4,954.9 1189.6,951.4C1186.8,947.9 1182.6,939.5 1179.5,936.2C1176.4,932.9 1168.5,927.7 1164.9,925.3C1161.3,922.9 1154.0,921.7 1150.4,917.3C1146.8,912.9 1138.6,895.9 1135.9,890.4C1133.2,884.9 1130.0,876.5 1128.6,873.0C1127.1,869.5 1127.0,866.3 1124.3,862.8C1121.6,859.3 1110.2,848.5 1107.0,845.0C1103.8,841.5 1102.7,838.1 1098.4,835.0C1094.1,831.9 1079.4,823.9 1072.5,820.4C1065.6,816.9 1050.7,810.1 1043.4,806.6C1036.1,803.1 1019.7,795.4 1014.3,792.8C1008.9,790.2 1003.3,787.6 1000.0,785.9C996.7,784.2 991.3,781.1 988.0,779.3C984.7,777.5 977.1,773.3 973.5,771.3C969.9,769.3 962.5,765.2 958.9,763.3C955.3,761.4 947.8,757.8 944.4,756.1C941.0,754.4 935.7,751.4 932.1,749.5C928.5,747.6 918.9,742.6 915.4,740.8C911.9,739.0 907.2,736.5 904.5,735.0C901.8,733.5 896.3,730.8 893.6,729.2C890.9,727.6 885.4,723.9 882.7,722.0C880.0,720.1 874.5,716.2 871.8,714.0C869.1,711.8 863.6,707.0 860.9,704.5C858.2,702.0 852.5,696.4 850.0,693.6C847.5,690.8 843.8,685.8 840.8,682.1C837.8,678.4 829.9,668.4 826.3,663.9C822.7,659.4 815.1,650.2 811.8,646.5C808.5,642.8 802.9,637.3 800.0,634.5C797.1,631.7 791.7,626.7 788.9,624.0C786.1,621.3 780.0,615.9 777.3,613.0C774.6,610.1 769.5,603.6 767.1,600.6C764.7,597.6 760.4,592.2 758.4,589.0C756.4,585.8 752.8,578.7 751.2,575.2C749.6,571.7 746.7,564.2 745.4,560.7C744.1,557.2 742.1,551.3 741.0,547.6C739.9,543.9 737.6,534.6 736.6,530.9C735.6,527.2 734.4,522.3 733.0,518.0C731.6,513.7 727.3,500.7 725.7,496.2C724.1,491.7 721.7,485.0 719.9,481.7C718.1,478.4 713.6,473.7 711.2,470.1C708.8,466.5 703.7,457.1 701.0,452.6C698.3,448.1 692.3,438.3 689.4,433.8C686.5,429.3 681.4,420.6 677.8,416.3C674.2,412.0 664.7,403.5 660.3,399.6C655.9,395.8 646.3,389.1 642.4,385.5C638.5,381.9 632.6,374.5 629.3,370.9C626.0,367.3 622.2,361.3 616.2,356.4C610.2,351.5 590.5,338.2 581.4,331.7C572.3,325.2 553.8,311.2 543.6,304.1C533.4,297.0 511.1,282.5 500.0,275.0C488.9,267.5 461.8,249.0 454.7,244.2C447.6,239.3 452.3,240.6 443.0,236.2C433.7,231.8 394.0,214.9 380.6,208.6C367.2,202.2 349.5,191.9 335.5,185.4C321.5,178.9 276.9,160.1 268.5,156.5Z" fill="#fff"/>
<polygon points="1128.6,873.0 1135.9,890.4 1150.4,917.3 1164.9,925.3 1179.5,936.2 1180.8,936.5 1173.6,926.3 1166.0,917.5 1159.0,908.5 1148.1,896.0 1140.8,887.3 1133.6,878.0 1127.0,868.5" fill="#ffff00"/>
<polyline points="1127.0,868.5 1133.6,878.0 1140.8,887.3 1148.1,896.0 1159.0,908.5 1166.0,917.5 1173.6,926.3 1180.8,936.5" fill="none" stroke="#4a4a66" stroke-width="1.3"/>
<path d="M1110.1,839.1C1111.5,840.5 1118.3,847.3 1121.0,850.0C1123.7,852.7 1129.1,857.8 1131.8,860.8C1134.5,863.8 1140.0,870.8 1142.7,873.9C1145.4,877.0 1151.4,883.2 1153.7,885.6C1155.9,887.9 1158.8,890.2 1160.7,892.7C1162.6,895.1 1166.6,901.8 1168.6,905.2C1170.7,908.7 1175.2,916.5 1177.3,920.2C1179.5,923.9 1184.9,933.0 1186.0,934.8" fill="none" stroke="#4a4a66" stroke-width="1.2"/>
<polyline points="1598.0,1216.5 1620.0,1226.5 1650.0,1242.5 1685.0,1260.5 1712.0,1276.0 1729.0,1291.0" fill="none" stroke="#a0a0ac" stroke-width="1"/>
<path d="M268.5,141.0C277.6,145.0 327.0,166.1 341.4,173.0C355.8,179.9 373.1,191.3 383.5,196.3C393.9,201.3 415.3,209.1 424.2,213.0C433.1,216.9 445.2,222.1 454.7,227.5C464.2,232.9 489.6,249.6 500.0,256.2C510.4,262.8 528.4,274.0 537.8,280.6C547.2,287.2 566.8,303.2 575.5,309.2C584.2,315.2 601.9,324.9 607.5,328.8C613.1,332.7 617.7,337.3 620.6,340.4C623.5,343.5 628.4,350.2 630.8,353.5C633.2,356.8 636.8,363.3 639.5,366.6C642.2,369.9 648.3,376.0 652.5,379.6C656.7,383.2 668.5,391.7 672.9,395.6C677.3,399.6 684.6,406.8 687.9,411.2C691.2,415.6 696.9,426.1 699.6,430.9C702.3,435.7 707.5,445.5 709.7,449.7C711.9,453.9 714.8,460.5 717.0,464.3C719.2,468.1 725.0,476.4 727.2,480.2C729.4,484.0 732.6,491.0 734.4,494.8C736.2,498.6 740.3,506.7 741.7,510.8C743.1,514.9 744.4,523.4 745.4,527.3C746.4,531.2 748.8,538.3 749.7,541.8C750.6,545.2 751.7,552.0 752.6,554.9C753.5,557.8 755.5,561.5 757.0,565.0C758.5,568.5 762.0,579.0 764.2,582.5C766.4,586.0 771.8,590.3 774.4,593.3C777.0,596.3 781.5,602.4 785.3,606.4C789.1,610.4 801.2,621.8 804.5,625.4C807.8,629.0 810.2,633.0 812.0,635.5C813.8,638.0 816.8,642.2 819.0,645.0C821.2,647.8 827.2,654.6 829.9,658.1C832.6,661.6 838.1,669.1 840.8,672.6C843.5,676.1 849.3,683.0 851.7,685.7C854.1,688.4 857.9,692.2 860.0,694.3C862.1,696.4 865.8,700.2 868.2,702.3C870.6,704.4 876.3,709.1 879.0,711.1C881.7,713.1 887.2,716.7 889.9,718.3C892.6,719.9 898.1,722.7 900.8,724.1C903.5,725.5 909.0,728.2 911.7,729.6C914.4,731.0 920.1,733.7 922.6,735.0C925.1,736.3 929.4,738.6 932.1,740.1C934.8,741.6 941.0,744.9 944.4,746.6C947.8,748.3 955.3,752.0 958.9,753.9C962.5,755.8 970.3,759.8 973.5,761.5C976.7,763.2 981.0,765.8 984.3,767.6C987.6,769.4 996.2,774.2 1000.0,776.2C1003.8,778.2 1008.9,781.0 1014.3,783.9C1019.7,786.8 1036.1,795.4 1043.4,799.1C1050.7,802.8 1066.8,810.5 1072.5,813.3C1078.2,816.1 1085.4,819.5 1088.9,821.2C1092.5,823.0 1098.0,825.3 1100.9,827.3C1103.8,829.3 1109.1,834.8 1111.8,837.4C1114.5,840.0 1120.0,845.6 1122.7,848.3C1125.4,851.0 1130.9,856.2 1133.6,859.2C1136.3,862.2 1141.8,869.2 1144.5,872.3C1147.2,875.4 1153.1,881.5 1155.4,883.9C1157.7,886.3 1160.7,888.7 1162.6,891.2C1164.5,893.7 1168.6,900.5 1170.7,904.0C1172.8,907.5 1177.2,915.3 1179.4,919.0C1181.6,922.7 1185.9,930.1 1188.1,933.6C1190.3,937.1 1193.5,943.4 1196.8,947.4C1200.1,951.4 1210.1,961.3 1214.5,965.6C1218.9,969.9 1227.6,977.9 1232.0,981.6C1236.4,985.3 1245.8,992.8 1249.4,995.4C1253.0,998.0 1257.4,1000.7 1261.0,1002.6C1264.6,1004.5 1274.9,1008.7 1278.5,1010.3C1282.1,1011.9 1286.8,1013.9 1290.0,1015.4C1293.2,1016.9 1300.9,1020.3 1304.5,1022.0C1308.1,1023.7 1315.4,1027.4 1319.0,1029.2C1322.6,1031.0 1330.0,1034.7 1333.6,1036.5C1337.2,1038.3 1344.5,1042.0 1348.1,1043.7C1351.7,1045.4 1359.9,1048.9 1362.6,1050.3C1365.3,1051.7 1367.6,1053.1 1369.9,1054.6C1372.2,1056.0 1378.1,1060.2 1380.8,1061.9C1383.5,1063.6 1389.0,1067.0 1391.7,1068.4C1394.4,1069.9 1400.3,1072.4 1402.6,1073.5C1404.9,1074.6 1408.0,1076.1 1409.8,1077.1C1411.6,1078.1 1414.8,1080.7 1417.1,1081.3C1419.4,1081.9 1424.5,1082.7 1428.0,1082.2C1431.5,1081.8 1441.1,1078.4 1445.0,1077.7C1448.9,1077.0 1456.2,1076.7 1459.0,1077.0C1461.8,1077.3 1465.6,1078.6 1467.5,1079.8C1469.4,1081.0 1473.3,1085.1 1474.5,1086.5C1475.7,1087.9 1476.4,1089.7 1476.8,1091.0C1477.2,1092.3 1478.0,1095.6 1477.8,1097.3C1477.6,1099.0 1476.4,1102.8 1475.6,1104.5C1474.8,1106.2 1472.2,1109.7 1471.2,1111.1C1470.2,1112.5 1468.4,1115.2 1468.0,1115.8L1468.0,1115.8C1468.9,1116.4 1473.1,1119.2 1474.9,1120.5C1476.7,1121.8 1480.5,1124.9 1482.1,1126.3C1483.7,1127.7 1486.8,1130.0 1487.9,1131.4C1489.0,1132.8 1489.9,1135.6 1490.8,1137.2C1491.7,1138.8 1493.8,1142.7 1495.2,1144.5C1496.6,1146.3 1500.0,1149.9 1501.7,1151.7C1503.4,1153.5 1507.2,1157.3 1509.0,1159.0C1510.8,1160.7 1514.5,1164.0 1516.3,1165.5C1518.1,1167.0 1521.7,1169.9 1523.5,1171.3C1525.3,1172.7 1528.2,1174.9 1530.8,1176.8C1533.4,1178.7 1541.0,1184.3 1544.5,1186.7C1548.0,1189.1 1555.4,1194.0 1559.0,1196.1C1562.6,1198.2 1570.0,1201.8 1573.6,1203.4C1577.2,1205.0 1584.5,1207.8 1588.1,1209.2C1591.7,1210.6 1599.9,1213.1 1602.6,1214.3C1605.3,1215.5 1607.2,1217.1 1609.9,1218.7C1612.6,1220.3 1620.8,1225.5 1624.4,1227.4C1628.0,1229.3 1635.3,1232.3 1638.9,1233.9C1642.5,1235.5 1649.9,1238.7 1653.5,1240.4C1657.1,1242.1 1664.7,1246.0 1668.0,1247.7C1671.3,1249.4 1677.8,1252.8 1680.0,1254.2C1682.2,1255.6 1682.8,1257.3 1685.3,1258.8C1687.8,1260.3 1696.2,1264.3 1699.8,1266.1C1703.4,1267.9 1711.0,1271.5 1714.3,1273.3C1717.6,1275.1 1723.3,1279.1 1726.0,1280.6C1728.7,1282.0 1734.8,1284.4 1736.1,1284.9" fill="none" stroke="#ff0000" stroke-width="2.8" stroke-linejoin="round" stroke-linecap="round"/>
<path d="M268.5,156.5C276.9,160.1 321.5,178.9 335.5,185.4C349.5,191.9 367.2,202.2 380.6,208.6C394.0,214.9 433.7,231.8 443.0,236.2C452.3,240.6 447.6,239.3 454.7,244.2C461.8,249.0 488.9,267.5 500.0,275.0C511.1,282.5 533.4,297.0 543.6,304.1C553.8,311.2 572.3,325.2 581.4,331.7C590.5,338.2 610.2,351.5 616.2,356.4C622.2,361.3 626.0,367.3 629.3,370.9C632.6,374.5 638.5,381.9 642.4,385.5C646.3,389.1 655.9,395.8 660.3,399.6C664.7,403.5 674.2,412.0 677.8,416.3C681.4,420.6 686.5,429.3 689.4,433.8C692.3,438.3 698.3,448.1 701.0,452.6C703.7,457.1 708.8,466.5 711.2,470.1C713.6,473.7 718.1,478.4 719.9,481.7C721.7,485.0 724.1,491.7 725.7,496.2C727.3,500.7 731.6,513.7 733.0,518.0C734.4,522.3 735.6,527.2 736.6,530.9C737.6,534.6 739.9,543.9 741.0,547.6C742.1,551.3 744.1,557.2 745.4,560.7C746.7,564.2 749.6,571.7 751.2,575.2C752.8,578.7 756.4,585.8 758.4,589.0C760.4,592.2 764.7,597.6 767.1,600.6C769.5,603.6 774.6,610.1 777.3,613.0C780.0,615.9 786.1,621.3 788.9,624.0C791.7,626.7 797.1,631.7 800.0,634.5C802.9,637.3 808.5,642.8 811.8,646.5C815.1,650.2 822.7,659.4 826.3,663.9C829.9,668.4 837.8,678.4 840.8,682.1C843.8,685.8 847.5,690.8 850.0,693.6C852.5,696.4 858.2,702.0 860.9,704.5C863.6,707.0 869.1,711.8 871.8,714.0C874.5,716.2 880.0,720.1 882.7,722.0C885.4,723.9 890.9,727.6 893.6,729.2C896.3,730.8 901.8,733.5 904.5,735.0C907.2,736.5 911.9,739.0 915.4,740.8C918.9,742.6 928.5,747.6 932.1,749.5C935.7,751.4 941.0,754.4 944.4,756.1C947.8,757.8 955.3,761.4 958.9,763.3C962.5,765.2 969.9,769.3 973.5,771.3C977.1,773.3 984.7,777.5 988.0,779.3C991.3,781.1 996.7,784.2 1000.0,785.9C1003.3,787.6 1008.9,790.2 1014.3,792.8C1019.7,795.4 1036.1,803.1 1043.4,806.6C1050.7,810.1 1065.6,816.9 1072.5,820.4C1079.4,823.9 1094.1,831.9 1098.4,835.0C1102.7,838.1 1103.8,841.5 1107.0,845.0C1110.2,848.5 1121.6,859.3 1124.3,862.8C1127.0,866.3 1127.1,869.5 1128.6,873.0C1130.0,876.5 1133.2,884.9 1135.9,890.4C1138.6,895.9 1146.8,912.9 1150.4,917.3C1154.0,921.7 1161.3,922.9 1164.9,925.3C1168.5,927.7 1176.4,932.9 1179.5,936.2C1182.6,939.5 1186.8,947.9 1189.6,951.4C1192.4,954.9 1198.9,961.0 1202.0,964.0C1205.1,967.0 1211.1,972.0 1214.5,975.0C1217.9,978.0 1224.9,984.5 1229.1,988.1C1233.3,991.7 1243.7,1001.1 1247.9,1004.1C1252.1,1007.1 1258.3,1010.0 1262.5,1012.1C1266.7,1014.2 1276.2,1018.3 1281.4,1020.6C1286.7,1022.9 1299.8,1028.5 1304.5,1030.7C1309.2,1032.9 1315.4,1036.1 1319.0,1037.9C1322.6,1039.7 1330.0,1043.4 1333.6,1045.2C1337.2,1047.0 1344.9,1050.9 1348.1,1052.5C1351.3,1054.1 1356.3,1056.7 1359.0,1058.3C1361.7,1059.9 1367.2,1063.8 1369.9,1065.5C1372.6,1067.2 1378.1,1070.5 1380.8,1072.1C1383.5,1073.7 1389.0,1077.0 1391.7,1078.6C1394.4,1080.2 1399.9,1083.5 1402.6,1085.1C1405.3,1086.7 1410.3,1089.8 1413.5,1091.7C1416.7,1093.6 1424.7,1098.1 1428.0,1100.0C1431.3,1101.9 1437.1,1104.9 1440.0,1106.7C1442.9,1108.5 1448.2,1112.7 1450.9,1114.7C1453.6,1116.7 1459.1,1120.6 1461.8,1122.7C1464.5,1124.8 1470.4,1129.6 1472.7,1131.4C1475.0,1133.2 1478.1,1135.5 1479.9,1137.2C1481.7,1138.9 1485.4,1143.2 1487.2,1145.2C1489.0,1147.2 1492.7,1151.2 1494.5,1153.2C1496.3,1155.2 1499.9,1159.3 1501.7,1161.2C1503.5,1163.1 1507.2,1166.7 1509.0,1168.4C1510.8,1170.1 1514.5,1173.5 1516.3,1175.0C1518.1,1176.5 1521.7,1179.4 1523.5,1180.8C1525.3,1182.2 1528.2,1184.3 1530.8,1186.0C1533.4,1187.7 1541.0,1192.6 1544.5,1194.7C1548.0,1196.8 1555.4,1200.9 1559.0,1202.7C1562.6,1204.5 1570.1,1207.8 1573.6,1209.2C1577.0,1210.7 1583.9,1213.2 1586.6,1214.3C1589.3,1215.4 1593.2,1217.0 1595.4,1217.9C1597.6,1218.8 1601.8,1220.3 1604.1,1221.6C1606.4,1222.9 1611.0,1226.6 1613.5,1228.1C1616.0,1229.5 1621.2,1231.8 1624.4,1233.2C1627.6,1234.7 1635.3,1238.0 1638.9,1239.7C1642.5,1241.4 1649.9,1245.2 1653.5,1247.0C1657.1,1248.8 1664.7,1252.6 1668.0,1254.2C1671.3,1255.8 1677.8,1259.0 1680.0,1260.1C1682.2,1261.2 1682.8,1261.7 1685.3,1263.2C1687.8,1264.7 1696.5,1269.9 1699.8,1271.9C1703.1,1273.9 1709.1,1277.5 1711.4,1279.1C1713.7,1280.7 1717.0,1282.9 1718.0,1284.9C1719.0,1286.9 1719.2,1293.8 1719.4,1295.1" fill="none" stroke="#ff0000" stroke-width="2.8" stroke-linejoin="round" stroke-linecap="round"/>
</g>
<polygon points="343.3,170.4 355.3,170.4 363.9,179.0 363.9,191.0 355.3,199.6 343.3,199.6 334.7,191.0 334.7,179.0" fill="#00f000" stroke="#000" stroke-width="1"/>
<circle cx="349.3" cy="185" r="3.6" fill="#000"/>
<polygon points="1739.7,1284.0 1751.5,1284.0 1759.8,1292.3 1759.8,1304.1 1751.5,1312.4 1739.7,1312.4 1731.4,1304.1 1731.4,1292.3" fill="#00f000" stroke="#000" stroke-width="1"/>
<rect x="1742.8" y="1291.5" width="23.8" height="12.9" fill="#ff0000" stroke="#000" stroke-width="1.4"/><line x1="1755.0" y1="1291.5" x2="1755.0" y2="1257.9" stroke="#000" stroke-width="1.2"/><polygon points="1754.2,1257.9 1771.0,1266.4 1755.0,1273.4" fill="#ff0000" stroke="#000" stroke-width="0.8"/>
<text class="st" transform="translate(364.9 160.2) scale(0.967 1)">K133</text>
<text class="st" transform="translate(1600.6 1273.5) scale(0.967 1)">K139+800</text>
<g stroke="#b3b3bd" stroke-width="1.9" stroke-dasharray="12.3 2.92" fill="none">
<line x1="453.7" y1="77.3" x2="453.7" y2="1352.2" stroke-dashoffset="12.8"/>
<line x1="931.85" y1="77.3" x2="931.85" y2="1352.2" stroke-dashoffset="7.5"/>
<line x1="1410.05" y1="77.3" x2="1410.05" y2="1352.2" stroke-dashoffset="2.0"/>
<line x1="268.3" y1="259.0" x2="1799.0" y2="259.0" stroke-dashoffset="0"/>
<line x1="268.3" y1="737.35" x2="1799.0" y2="737.35" stroke-dashoffset="6.4"/>
<line x1="268.3" y1="1215.75" x2="1799.0" y2="1215.75" stroke-dashoffset="13.7"/>
</g>
<rect x="268.3" y="77.3" width="1530.7" height="1274.9" fill="none" stroke="#000" stroke-width="4.0" stroke-linejoin="round"/>
<g stroke="#000" stroke-width="3.7" stroke-linecap="round">
<line x1="453.7" y1="77.3" x2="453.7" y2="65.0"/>
<line x1="453.7" y1="1352.2" x2="453.7" y2="1364.6000000000001"/>
<line x1="931.85" y1="77.3" x2="931.85" y2="65.0"/>
<line x1="931.85" y1="1352.2" x2="931.85" y2="1364.6000000000001"/>
<line x1="1410.05" y1="77.3" x2="1410.05" y2="65.0"/>
<line x1="1410.05" y1="1352.2" x2="1410.05" y2="1364.6000000000001"/>
<line x1="268.3" y1="259.0" x2="255.60000000000002" y2="259.0"/>
<line x1="1799.0" y1="259.0" x2="1810.9" y2="259.0"/>
<line x1="268.3" y1="737.35" x2="255.60000000000002" y2="737.35"/>
<line x1="1799.0" y1="737.35" x2="1810.9" y2="737.35"/>
<line x1="268.3" y1="1215.75" x2="255.60000000000002" y2="1215.75"/>
<line x1="1799.0" y1="1215.75" x2="1810.9" y2="1215.75"/>
</g>
<text class="ax" transform="translate(328.6 51.3) scale(0.979 1)">103°55'0&quot; E</text>
<text class="ax" transform="translate(328.6 1414.5) scale(0.979 1)">103°55'0&quot; E</text>
<text class="ax" transform="translate(806.8 51.3) scale(0.979 1)">103°56'0&quot; E</text>
<text class="ax" transform="translate(806.8 1414.5) scale(0.979 1)">103°56'0&quot; E</text>
<text class="ax" transform="translate(1285.0 51.3) scale(0.979 1)">103°57'0&quot; E</text>
<text class="ax" transform="translate(1285.0 1414.5) scale(0.979 1)">103°57'0&quot; E</text>
<text class="ax" transform="translate(14.4 278.2) scale(0.979 1)">22°34'0&quot; N</text>
<text class="ax" transform="translate(1812.5 278.2) scale(0.979 1)">22°34'0&quot; N</text>
<text class="ax" transform="translate(14.4 756.6) scale(0.979 1)">22°33'0&quot; N</text>
<text class="ax" transform="translate(1812.5 756.6) scale(0.979 1)">22°33'0&quot; N</text>
<text class="ax" transform="translate(14.4 1235.0) scale(0.979 1)">22°32'0&quot; N</text>
<text class="ax" transform="translate(1812.5 1235.0) scale(0.979 1)">22°32'0&quot; N</text>
<text class="n" x="1610.2" y="205.3">N</text>
<polygon points="1644.4,223.7 1576.3,455.3 1644.4,373.7 1713.7,455.3" fill="#000"/>
<polygon points="1645.6,247.5 1645.6,362.6 1695.5,422" fill="#fff"/>
<rect x="340.5" y="865.9" width="26.7" height="14.5" fill="#ff0000" stroke="#000" stroke-width="1.4"/><line x1="354.2" y1="865.9" x2="354.2" y2="828.2" stroke="#000" stroke-width="1.2"/><polygon points="353.3,828.2 372.2,837.7 354.2,845.6" fill="#ff0000" stroke="#000" stroke-width="0.8"/>
<polygon points="350.0,936.4 363.8,936.4 373.6,946.2 373.6,960.0 363.8,969.8 350.0,969.8 340.2,960.0 340.2,946.2" fill="#00f000" stroke="#000" stroke-width="1"/>
<circle cx="356.9" cy="953.1" r="3.7" fill="#000"/>
<line x1="283.3" y1="1052.25" x2="430.3" y2="1052.25" stroke="#ff0000" stroke-width="2.7" stroke-linecap="round"/>
<rect x="285.4" y="1126.6" width="147.7" height="74.3" fill="#4ce600" stroke="#6a6276" stroke-width="1.9"/>
<rect x="285.4" y="1256.3" width="147.7" height="74.3" fill="#ffff00" stroke="#6a6276" stroke-width="1.9"/>
<text class="lg" x="456.4" y="872.6">Terminal point</text>
<text class="lg" x="455.6" y="971.3">Stake number</text>
<text class="lg" x="456.4" y="1070">Xinhe expressway</text>
<text class="lg" x="458.7" y="1182.9">Natural slope</text>
<text class="lg" x="458.7" y="1312">Artificial slope</text>
<rect x="895.3" y="1293.6" width="518.7" height="16.8" fill="#000"/>
<rect x="962.4" y="1296.3" width="62" height="11.6" fill="#fff"/>
<rect x="1090.9" y="1296.3" width="62.4" height="11.6" fill="#fff"/>
<text class="sb" x="896.3" y="1273.3" text-anchor="middle">0</text>
<text class="sb" x="1025.2" y="1273.3" text-anchor="middle">0.5</text>
<text class="sb" x="1153.7" y="1273.3" text-anchor="middle">1</text>
<text class="sb" x="1411.7" y="1273.3" text-anchor="middle">2</text>
<text class="sb" x="1425" y="1309.4">km</text>
</svg></body></html>
